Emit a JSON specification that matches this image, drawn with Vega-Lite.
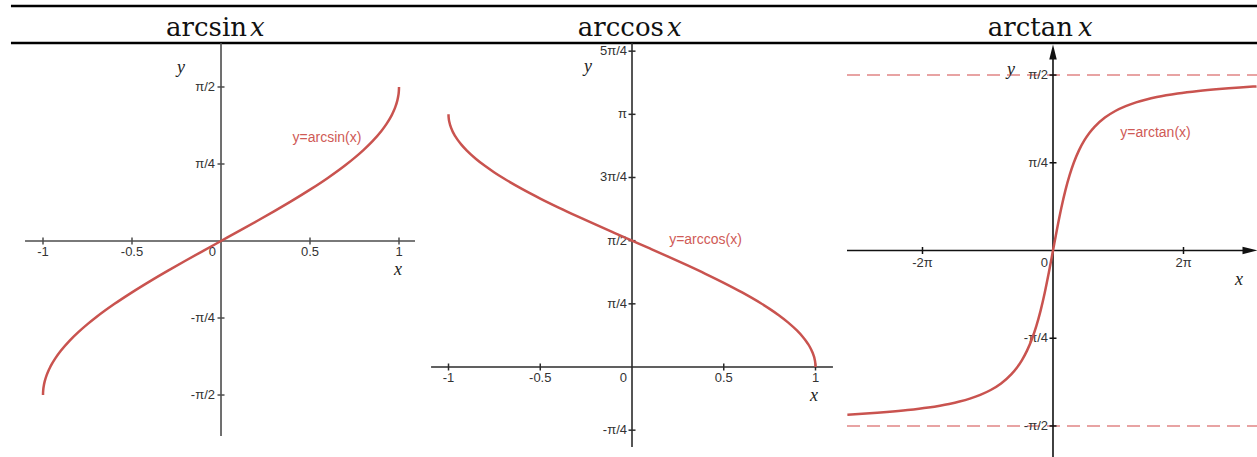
{
  "$schema": "https://vega.github.io/schema/vega-lite/v6.json",
  "padding": 0,
  "background": "white",
  "spacing": 0,
  "bounds": "flush",
  "config": {"view": {"stroke": null}},
  "datasets": {
    "c1": [
      {"x": -1, "y": -1.5708}, {"x": -0.9999, "y": -1.5567}, {"x": -0.999, "y": -1.5261}, {"x": -0.995, "y": -1.4708},
      {"x": -0.99, "y": -1.4293}, {"x": -0.98, "y": -1.3705}, {"x": -0.97, "y": -1.3253}, {"x": -0.96, "y": -1.287},
      {"x": -0.95, "y": -1.2532}, {"x": -0.93, "y": -1.1944}, {"x": -0.9, "y": -1.1198}, {"x": -0.85, "y": -1.016},
      {"x": -0.8, "y": -0.9273}, {"x": -0.75, "y": -0.8481}, {"x": -0.7, "y": -0.7754}, {"x": -0.6, "y": -0.6435},
      {"x": -0.5, "y": -0.5236}, {"x": -0.4, "y": -0.4115}, {"x": -0.3, "y": -0.3047}, {"x": -0.2, "y": -0.2014},
      {"x": -0.1, "y": -0.1002}, {"x": 0, "y": 0}, {"x": 0.1, "y": 0.1002}, {"x": 0.2, "y": 0.2014},
      {"x": 0.3, "y": 0.3047}, {"x": 0.4, "y": 0.4115}, {"x": 0.5, "y": 0.5236}, {"x": 0.6, "y": 0.6435},
      {"x": 0.7, "y": 0.7754}, {"x": 0.75, "y": 0.8481}, {"x": 0.8, "y": 0.9273}, {"x": 0.85, "y": 1.016},
      {"x": 0.9, "y": 1.1198}, {"x": 0.93, "y": 1.1944}, {"x": 0.95, "y": 1.2532}, {"x": 0.96, "y": 1.287},
      {"x": 0.97, "y": 1.3253}, {"x": 0.98, "y": 1.3705}, {"x": 0.99, "y": 1.4293}, {"x": 0.995, "y": 1.4708},
      {"x": 0.999, "y": 1.5261}, {"x": 0.9999, "y": 1.5567}, {"x": 1, "y": 1.5708}
    ],
    "c2": [
      {"x": -1, "y": 3.1416}, {"x": -0.9999, "y": 3.1275}, {"x": -0.999, "y": 3.0969}, {"x": -0.995, "y": 3.0416},
      {"x": -0.99, "y": 3.0001}, {"x": -0.98, "y": 2.9413}, {"x": -0.97, "y": 2.8961}, {"x": -0.96, "y": 2.8578},
      {"x": -0.95, "y": 2.824}, {"x": -0.93, "y": 2.7652}, {"x": -0.9, "y": 2.6906}, {"x": -0.85, "y": 2.5868},
      {"x": -0.8, "y": 2.4981}, {"x": -0.75, "y": 2.4189}, {"x": -0.7, "y": 2.3462}, {"x": -0.6, "y": 2.2143},
      {"x": -0.5, "y": 2.0944}, {"x": -0.4, "y": 1.9823}, {"x": -0.3, "y": 1.8755}, {"x": -0.2, "y": 1.7722},
      {"x": -0.1, "y": 1.671}, {"x": 0, "y": 1.5708}, {"x": 0.1, "y": 1.4706}, {"x": 0.2, "y": 1.3694},
      {"x": 0.3, "y": 1.2661}, {"x": 0.4, "y": 1.1593}, {"x": 0.5, "y": 1.0472}, {"x": 0.6, "y": 0.9273},
      {"x": 0.7, "y": 0.7954}, {"x": 0.75, "y": 0.7227}, {"x": 0.8, "y": 0.6435}, {"x": 0.85, "y": 0.5548},
      {"x": 0.9, "y": 0.451}, {"x": 0.93, "y": 0.3764}, {"x": 0.95, "y": 0.3176}, {"x": 0.96, "y": 0.2838},
      {"x": 0.97, "y": 0.2455}, {"x": 0.98, "y": 0.2003}, {"x": 0.99, "y": 0.1415}, {"x": 0.995, "y": 0.1},
      {"x": 0.999, "y": 0.0447}, {"x": 0.9999, "y": 0.0141}, {"x": 1, "y": 0}
    ],
    "c3": [
      {"x": -9.9, "y": -1.4701}, {"x": -9, "y": -1.4601}, {"x": -8, "y": -1.4464}, {"x": -7, "y": -1.4289},
      {"x": -6, "y": -1.4056}, {"x": -5, "y": -1.3734}, {"x": -4.5, "y": -1.3521}, {"x": -4, "y": -1.3258},
      {"x": -3.5, "y": -1.2925}, {"x": -3, "y": -1.249}, {"x": -2.5, "y": -1.1903}, {"x": -2, "y": -1.1071},
      {"x": -1.75, "y": -1.0517}, {"x": -1.5, "y": -0.9828}, {"x": -1.25, "y": -0.8961}, {"x": -1, "y": -0.7854},
      {"x": -0.8, "y": -0.6747}, {"x": -0.6, "y": -0.5404}, {"x": -0.4, "y": -0.3805}, {"x": -0.2, "y": -0.1974},
      {"x": 0, "y": 0}, {"x": 0.2, "y": 0.1974}, {"x": 0.4, "y": 0.3805}, {"x": 0.6, "y": 0.5404},
      {"x": 0.8, "y": 0.6747}, {"x": 1, "y": 0.7854}, {"x": 1.25, "y": 0.8961}, {"x": 1.5, "y": 0.9828},
      {"x": 1.75, "y": 1.0517}, {"x": 2, "y": 1.1071}, {"x": 2.5, "y": 1.1903}, {"x": 3, "y": 1.249},
      {"x": 3.5, "y": 1.2925}, {"x": 4, "y": 1.3258}, {"x": 4.5, "y": 1.3521}, {"x": 5, "y": 1.3734},
      {"x": 6, "y": 1.4056}, {"x": 7, "y": 1.4289}, {"x": 8, "y": 1.4464}, {"x": 9, "y": 1.4601}, {"x": 9.8, "y": 1.4691}
    ],
    "l1": [
      {"kind": "header", "x": -1.18, "x2": 1.1348, "y": 2.397, "y2": 2.397},
      {"kind": "header", "x": -1.18, "x2": 1.1348, "y": 2.0196, "y2": 2.0196},
      {"kind": "axis", "x": -1.101, "x2": 1.09, "y": 0, "y2": 0},
      {"kind": "axis", "x": 0, "x2": 0, "y": 2.0196, "y2": -1.989}
    ],
    "l2": [
      {"kind": "header", "x": -1.139, "x2": 1.1335, "y": 4.488, "y2": 4.488},
      {"kind": "header", "x": -1.139, "x2": 1.1335, "y": 4.028, "y2": 4.028},
      {"kind": "axis", "x": -1.095, "x2": 1.095, "y": 0, "y2": 0},
      {"kind": "axis", "x": 0, "x2": 0, "y": 4.028, "y2": -0.995}
    ],
    "l3": [
      {"kind": "header", "x": -10.255, "x2": 9.822, "y": 2.189, "y2": 2.189},
      {"kind": "header", "x": -10.255, "x2": 9.822, "y": 1.858, "y2": 1.858},
      {"kind": "asym", "x": -9.918, "x2": 9.822, "y": 1.5708, "y2": 1.5708},
      {"kind": "asym", "x": -9.918, "x2": 9.822, "y": -1.5708, "y2": -1.5708},
      {"kind": "axis", "x": -9.918, "x2": 9.5, "y": 0, "y2": 0},
      {"kind": "axis", "x": 0, "x2": 0, "y": 1.78, "y2": -1.8487}
    ],
    "t1": [
      {"axis": "x", "x": -1, "y": 0, "label": "-1"}, {"axis": "x", "x": -0.5, "y": 0, "label": "-0.5"},
      {"axis": "x", "x": 0.5, "y": 0, "label": "0.5"}, {"axis": "x", "x": 1, "y": 0, "label": "1"},
      {"axis": "y", "x": 0, "y": 1.5708, "label": "π/2"}, {"axis": "y", "x": 0, "y": 0.7854, "label": "π/4"},
      {"axis": "y", "x": 0, "y": -0.7854, "label": "-π/4"}, {"axis": "y", "x": 0, "y": -1.5708, "label": "-π/2"},
      {"axis": "o", "x": 0, "y": 0, "label": "0"}
    ],
    "t2": [
      {"axis": "x", "x": -1, "y": 0, "label": "-1"}, {"axis": "x", "x": -0.5, "y": 0, "label": "-0.5"},
      {"axis": "x", "x": 0.5, "y": 0, "label": "0.5"}, {"axis": "x", "x": 1, "y": 0, "label": "1"},
      {"axis": "y", "x": 0, "y": 3.927, "label": "5π/4"}, {"axis": "y", "x": 0, "y": 3.1416, "label": "π"},
      {"axis": "y", "x": 0, "y": 2.3562, "label": "3π/4"}, {"axis": "y", "x": 0, "y": 1.5708, "label": "π/2"},
      {"axis": "y", "x": 0, "y": 0.7854, "label": "π/4"}, {"axis": "y", "x": 0, "y": -0.7854, "label": "-π/4"},
      {"axis": "o", "x": 0, "y": 0, "label": "0"}
    ],
    "t3": [
      {"axis": "x", "x": -6.2832, "y": 0, "label": "-2π"}, {"axis": "x", "x": 6.2832, "y": 0, "label": "2π"},
      {"axis": "y", "x": 0, "y": 1.5708, "label": "π/2"}, {"axis": "y", "x": 0, "y": 0.7854, "label": "π/4"},
      {"axis": "y", "x": 0, "y": -0.7854, "label": "-π/4"}, {"axis": "y", "x": 0, "y": -1.5708, "label": "-π/2"},
      {"axis": "o", "x": 0, "y": 0, "label": "0"}
    ],
    "a1": [
      {"role": "fn", "x": 0.146, "y": 2.091, "label": "arcsin"},
      {"role": "var", "x": 0.163, "y": 2.091, "label": "x"},
      {"role": "name", "x": -0.225, "y": 1.714, "label": "y"},
      {"role": "name", "x": 0.994, "y": -0.347, "label": "x"},
      {"role": "curve", "x": 0.5955, "y": 1.0506, "label": "y=arcsin(x)"}
    ],
    "a2": [
      {"role": "fn", "x": 0.174, "y": 4.115, "label": "arccos"},
      {"role": "var", "x": 0.191, "y": 4.115, "label": "x"},
      {"role": "name", "x": -0.24, "y": 3.668, "label": "y"},
      {"role": "name", "x": 0.992, "y": -0.423, "label": "x"},
      {"role": "curve", "x": 0.4005, "y": 1.579, "label": "y=arccos(x)"}
    ],
    "a3": [
      {"role": "fn", "x": 0.963, "y": 1.92, "label": "arctan"},
      {"role": "var", "x": 1.204, "y": 1.92, "label": "x"},
      {"role": "name", "x": -2.022, "y": 1.571, "label": "y"},
      {"role": "name", "x": 8.955, "y": -0.309, "label": "x"},
      {"role": "curve", "x": 4.935, "y": 1.052, "label": "y=arctan(x)"}
    ],
    "arrows": [
      {"dir": "up", "x": 0, "y": 1.777},
      {"dir": "right", "x": 9.485, "y": 0}
    ]
  },
  "hconcat": [
    {
      "width": 423,
      "height": 457,
      "encoding": {
        "x": {"field": "x", "type": "quantitative", "scale": {"domain": [-1.2416, 1.1348], "nice": false, "zero": false}, "axis": null},
        "y": {"field": "y", "type": "quantitative", "scale": {"domain": [-2.203, 2.458], "nice": false, "zero": false}, "axis": null}
      },
      "layer": [
        {"data": {"name": "l1"}, "transform": [{"filter": "datum.kind == 'header'"}], "mark": {"type": "rule", "stroke": "#000000", "strokeWidth": 2.5}, "encoding": {"x2": {"field": "x2"}, "y2": {"field": "y2"}}},
        {"data": {"name": "l1"}, "transform": [{"filter": "datum.kind == 'axis'"}], "mark": {"type": "rule", "stroke": "#4d4d4d", "strokeWidth": 1.6}, "encoding": {"x2": {"field": "x2"}, "y2": {"field": "y2"}}},
        {"data": {"name": "t1"}, "transform": [{"filter": "datum.axis == 'x'"}], "mark": {"type": "tick", "orient": "vertical", "size": 7, "thickness": 1.5, "color": "#4d4d4d", "opacity": 1}},
        {"data": {"name": "t1"}, "transform": [{"filter": "datum.axis == 'y'"}], "mark": {"type": "tick", "orient": "horizontal", "size": 7, "thickness": 1.5, "color": "#4d4d4d", "opacity": 1}},
        {"data": {"name": "t1"}, "transform": [{"filter": "datum.axis == 'x'"}], "mark": {"type": "text", "align": "center", "baseline": "top", "dy": 5, "font": "Liberation Sans", "fontSize": 13, "color": "#333333"}, "encoding": {"text": {"field": "label"}}},
        {"data": {"name": "t1"}, "transform": [{"filter": "datum.axis == 'o'"}], "mark": {"type": "text", "align": "right", "baseline": "top", "dx": -5, "dy": 5, "font": "Liberation Sans", "fontSize": 13, "color": "#333333"}, "encoding": {"text": {"field": "label"}}},
        {"data": {"name": "t1"}, "transform": [{"filter": "datum.axis == 'y'"}], "mark": {"type": "text", "align": "right", "baseline": "middle", "dx": -6, "font": "Liberation Sans", "fontSize": 13, "color": "#333333"}, "encoding": {"text": {"field": "label"}}},
        {"data": {"name": "c1"}, "mark": {"type": "line", "color": "#c9534f", "strokeWidth": 2.5, "interpolate": "monotone"}},
        {"data": {"name": "a1"}, "transform": [{"filter": "datum.role == 'fn'"}], "mark": {"type": "text", "align": "right", "baseline": "alphabetic", "font": "DejaVu Serif", "fontSize": 26, "color": "#111111"}, "encoding": {"text": {"field": "label"}}},
        {"data": {"name": "a1"}, "transform": [{"filter": "datum.role == 'var'"}], "mark": {"type": "text", "align": "left", "baseline": "alphabetic", "font": "DejaVu Serif", "fontStyle": "italic", "fontSize": 26, "color": "#111111"}, "encoding": {"text": {"field": "label"}}},
        {"data": {"name": "a1"}, "transform": [{"filter": "datum.role == 'name'"}], "mark": {"type": "text", "align": "center", "baseline": "alphabetic", "font": "Liberation Serif", "fontStyle": "italic", "fontSize": 18, "color": "#222222"}, "encoding": {"text": {"field": "label"}}},
        {"data": {"name": "a1"}, "transform": [{"filter": "datum.role == 'curve'"}], "mark": {"type": "text", "align": "center", "baseline": "middle", "font": "Liberation Sans", "fontSize": 14, "color": "#cf5a56"}, "encoding": {"text": {"field": "label"}}}
      ]
    },
    {
      "width": 417,
      "height": 457,
      "encoding": {
        "x": {"field": "x", "type": "quantitative", "scale": {"domain": [-1.139, 1.1335], "nice": false, "zero": false}, "axis": null},
        "y": {"field": "y", "type": "quantitative", "scale": {"domain": [-1.119, 4.563], "nice": false, "zero": false}, "axis": null}
      },
      "layer": [
        {"data": {"name": "l2"}, "transform": [{"filter": "datum.kind == 'header'"}], "mark": {"type": "rule", "stroke": "#000000", "strokeWidth": 2.5}, "encoding": {"x2": {"field": "x2"}, "y2": {"field": "y2"}}},
        {"data": {"name": "l2"}, "transform": [{"filter": "datum.kind == 'axis'"}], "mark": {"type": "rule", "stroke": "#2b2b2b", "strokeWidth": 1.6}, "encoding": {"x2": {"field": "x2"}, "y2": {"field": "y2"}}},
        {"data": {"name": "t2"}, "transform": [{"filter": "datum.axis == 'x'"}], "mark": {"type": "tick", "orient": "vertical", "size": 7, "thickness": 1.5, "color": "#2b2b2b", "opacity": 1}},
        {"data": {"name": "t2"}, "transform": [{"filter": "datum.axis == 'y'"}], "mark": {"type": "tick", "orient": "horizontal", "size": 7, "thickness": 1.5, "color": "#2b2b2b", "opacity": 1}},
        {"data": {"name": "t2"}, "transform": [{"filter": "datum.axis == 'x'"}], "mark": {"type": "text", "align": "center", "baseline": "top", "dy": 5, "font": "Liberation Sans", "fontSize": 13, "color": "#333333"}, "encoding": {"text": {"field": "label"}}},
        {"data": {"name": "t2"}, "transform": [{"filter": "datum.axis == 'o'"}], "mark": {"type": "text", "align": "right", "baseline": "top", "dx": -5, "dy": 5, "font": "Liberation Sans", "fontSize": 13, "color": "#333333"}, "encoding": {"text": {"field": "label"}}},
        {"data": {"name": "t2"}, "transform": [{"filter": "datum.axis == 'y'"}], "mark": {"type": "text", "align": "right", "baseline": "middle", "dx": -5, "font": "Liberation Sans", "fontSize": 13, "color": "#333333"}, "encoding": {"text": {"field": "label"}}},
        {"data": {"name": "c2"}, "mark": {"type": "line", "color": "#c9534f", "strokeWidth": 2.5, "interpolate": "monotone"}},
        {"data": {"name": "a2"}, "transform": [{"filter": "datum.role == 'fn'"}], "mark": {"type": "text", "align": "right", "baseline": "alphabetic", "font": "DejaVu Serif", "fontSize": 26, "color": "#111111"}, "encoding": {"text": {"field": "label"}}},
        {"data": {"name": "a2"}, "transform": [{"filter": "datum.role == 'var'"}], "mark": {"type": "text", "align": "left", "baseline": "alphabetic", "font": "DejaVu Serif", "fontStyle": "italic", "fontSize": 26, "color": "#111111"}, "encoding": {"text": {"field": "label"}}},
        {"data": {"name": "a2"}, "transform": [{"filter": "datum.role == 'name'"}], "mark": {"type": "text", "align": "center", "baseline": "alphabetic", "font": "Liberation Serif", "fontStyle": "italic", "fontSize": 18, "color": "#222222"}, "encoding": {"text": {"field": "label"}}},
        {"data": {"name": "a2"}, "transform": [{"filter": "datum.role == 'curve'"}], "mark": {"type": "text", "align": "center", "baseline": "middle", "font": "Liberation Sans", "fontSize": 14, "color": "#cf5a56"}, "encoding": {"text": {"field": "label"}}}
      ]
    },
    {
      "width": 417,
      "height": 457,
      "encoding": {
        "x": {"field": "x", "type": "quantitative", "scale": {"domain": [-10.255, 9.822], "nice": false, "zero": false}, "axis": null},
        "y": {"field": "y", "type": "quantitative", "scale": {"domain": [-1.8487, 2.2426], "nice": false, "zero": false}, "axis": null}
      },
      "layer": [
        {"data": {"name": "l3"}, "transform": [{"filter": "datum.kind == 'header'"}], "mark": {"type": "rule", "stroke": "#000000", "strokeWidth": 2.5}, "encoding": {"x2": {"field": "x2"}, "y2": {"field": "y2"}}},
        {"data": {"name": "l3"}, "transform": [{"filter": "datum.kind == 'asym'"}], "mark": {"type": "rule", "stroke": "#e8a3a3", "strokeWidth": 2, "strokeDash": [13, 7]}, "encoding": {"x2": {"field": "x2"}, "y2": {"field": "y2"}}},
        {"data": {"name": "l3"}, "transform": [{"filter": "datum.kind == 'axis'"}], "mark": {"type": "rule", "stroke": "#111111", "strokeWidth": 1.6}, "encoding": {"x2": {"field": "x2"}, "y2": {"field": "y2"}}},
        {"data": {"name": "arrows"}, "transform": [{"filter": "datum.dir == 'up'"}], "mark": {"type": "point", "shape": "M0,-1L0.5,1L-0.5,1Z", "size": 225, "filled": true, "color": "#111111", "opacity": 1, "strokeWidth": 0}},
        {"data": {"name": "arrows"}, "transform": [{"filter": "datum.dir == 'right'"}], "mark": {"type": "point", "shape": "M1,0L-1,-0.5L-1,0.5Z", "size": 225, "filled": true, "color": "#111111", "opacity": 1, "strokeWidth": 0}},
        {"data": {"name": "t3"}, "transform": [{"filter": "datum.axis == 'x'"}], "mark": {"type": "tick", "orient": "vertical", "size": 7, "thickness": 1.5, "color": "#111111", "opacity": 1}},
        {"data": {"name": "t3"}, "transform": [{"filter": "datum.axis == 'y'"}], "mark": {"type": "tick", "orient": "horizontal", "size": 7, "thickness": 1.5, "color": "#111111", "opacity": 1}},
        {"data": {"name": "t3"}, "transform": [{"filter": "datum.axis == 'x'"}], "mark": {"type": "text", "align": "center", "baseline": "top", "dy": 7, "font": "Liberation Sans", "fontSize": 13, "color": "#333333"}, "encoding": {"text": {"field": "label"}}},
        {"data": {"name": "t3"}, "transform": [{"filter": "datum.axis == 'o'"}], "mark": {"type": "text", "align": "right", "baseline": "top", "dx": -5, "dy": 7, "font": "Liberation Sans", "fontSize": 13, "color": "#333333"}, "encoding": {"text": {"field": "label"}}},
        {"data": {"name": "t3"}, "transform": [{"filter": "datum.axis == 'y'"}], "mark": {"type": "text", "align": "right", "baseline": "middle", "dx": -5, "font": "Liberation Sans", "fontSize": 13, "color": "#333333"}, "encoding": {"text": {"field": "label"}}},
        {"data": {"name": "c3"}, "mark": {"type": "line", "color": "#c9534f", "strokeWidth": 2.5, "interpolate": "monotone"}},
        {"data": {"name": "a3"}, "transform": [{"filter": "datum.role == 'fn'"}], "mark": {"type": "text", "align": "right", "baseline": "alphabetic", "font": "DejaVu Serif", "fontSize": 26, "color": "#111111"}, "encoding": {"text": {"field": "label"}}},
        {"data": {"name": "a3"}, "transform": [{"filter": "datum.role == 'var'"}], "mark": {"type": "text", "align": "left", "baseline": "alphabetic", "font": "DejaVu Serif", "fontStyle": "italic", "fontSize": 26, "color": "#111111"}, "encoding": {"text": {"field": "label"}}},
        {"data": {"name": "a3"}, "transform": [{"filter": "datum.role == 'name'"}], "mark": {"type": "text", "align": "center", "baseline": "alphabetic", "font": "Liberation Serif", "fontStyle": "italic", "fontSize": 18, "color": "#222222"}, "encoding": {"text": {"field": "label"}}},
        {"data": {"name": "a3"}, "transform": [{"filter": "datum.role == 'curve'"}], "mark": {"type": "text", "align": "center", "baseline": "middle", "font": "Liberation Sans", "fontSize": 14, "color": "#cf5a56"}, "encoding": {"text": {"field": "label"}}}
      ]
    }
  ]
}
